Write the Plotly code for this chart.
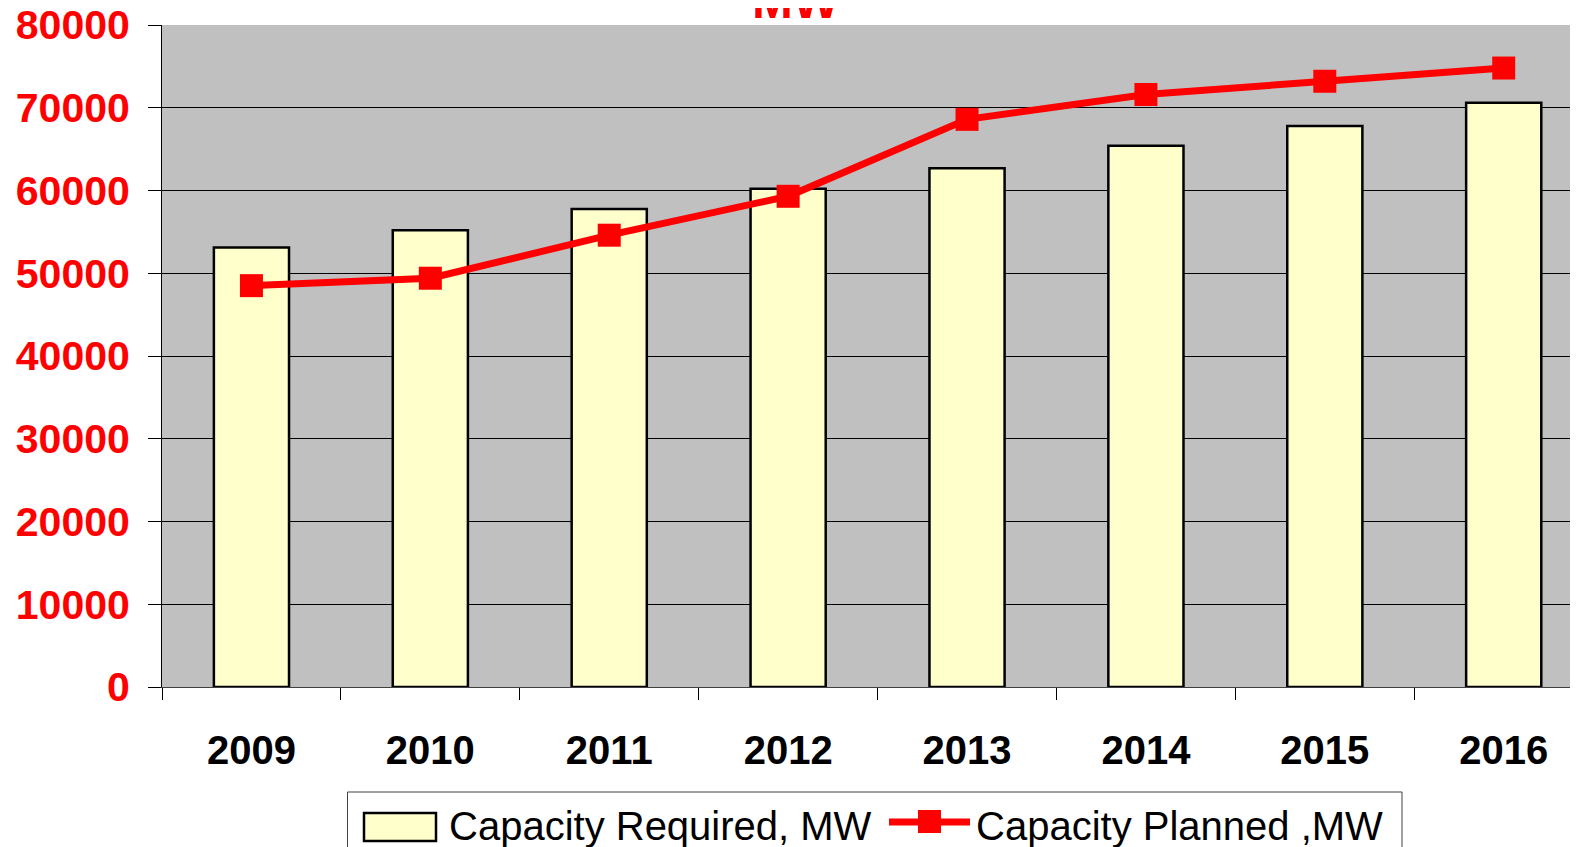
import plotly.graph_objects as go

years = ["2009", "2010", "2011", "2012", "2013", "2014", "2015", "2016"]
capacity_required = [53100, 55200, 57750, 60200, 62700, 65400, 67800, 70600]
capacity_planned = [48500, 49400, 54600, 59300, 68600, 71600, 73200, 74800]
y_ticks = [0, 10000, 20000, 30000, 40000, 50000, 60000, 70000, 80000]
y_tick_labels = [str(v) for v in y_ticks]
series_names = ["Capacity Required, MW", "Capacity Planned ,MW"]

FONT = "Liberation Sans, Arial, sans-serif"
W, H = 1578, 847
OFF = 8  # page body offset
# target screen positions of plot area
SX0, SY0, SY1 = 162, 25, 687
ML = SX0 - OFF
MT = SY0 - OFF
MB = H - (SY1 - OFF)
PW, PH = W - ML, H - MT - MB


def px(x):
    return (x - OFF - ML) / PW


def py(y):
    return (H - MB - (y - OFF)) / PH


fig = go.Figure()
fig.add_trace(go.Bar(
    x=years, y=capacity_required, name=series_names[0],
    width=0.42,
    marker=dict(color="#FFFFCC", line=dict(color="black", width=2.5)),
))
fig.add_trace(go.Scatter(
    x=years, y=capacity_planned, name=series_names[1],
    mode="lines+markers",
    line=dict(color="#FF0000", width=7),
    marker=dict(symbol="square", size=23, color="#FF0000"),
))

fig.add_annotation(
    text="<b>MW</b>", xref="paper", yref="paper", x=px(796), y=1.0, yshift=-5,
    xanchor="center", yanchor="bottom", showarrow=False,
    font=dict(family=FONT, size=49, color="#FF0000"),
)

# legend (drawn as a boxed key below the plot)
shapes = [
    dict(type="rect", xref="paper", yref="paper",
         x0=px(347.5), x1=px(1402), y0=py(870), y1=py(792),
         line=dict(color="#404040", width=1), fillcolor="white", layer="above"),
    dict(type="rect", xref="paper", yref="paper",
         x0=px(364), x1=px(436), y0=py(841), y1=py(813),
         line=dict(color="black", width=2.5), fillcolor="#FFFFCC", layer="above"),
    dict(type="line", xref="paper", yref="paper",
         x0=px(889), x1=px(970), y0=py(822), y1=py(822),
         line=dict(color="#FF0000", width=7), layer="above"),
    dict(type="rect", xref="paper", yref="paper",
         x0=px(918), x1=px(941), y0=py(833), y1=py(810),
         line=dict(color="#FF0000", width=0), fillcolor="#FF0000", layer="above"),
]
fig.add_annotation(
    text=series_names[0], xref="paper", yref="paper", x=px(447), y=py(826),
    xanchor="left", yanchor="middle", showarrow=False,
    font=dict(family=FONT, size=40, color="black"),
)
fig.add_annotation(
    text=series_names[1], xref="paper", yref="paper", x=px(974), y=py(826),
    xanchor="left", yanchor="middle", showarrow=False,
    font=dict(family=FONT, size=40, color="black"),
)

fig.update_layout(
    width=W, height=H,
    margin=dict(l=ML, r=0, t=MT, b=MB, autoexpand=False),
    paper_bgcolor="white",
    plot_bgcolor="#C0C0C0",
    showlegend=False,
    shapes=shapes,
    xaxis=dict(
        type="category", range=[-0.5, 7.46], automargin=False,
        tickson="boundaries", ticks="outside", ticklen=12, tickcolor="black",
        showline=True, linecolor="#404040", linewidth=1,
        showgrid=False,
        tickfont=dict(family=FONT, size=40, color="black", weight="bold"),
        ticklabelstandoff=28, ticklabeloverflow="allow",
    ),
    yaxis=dict(
        range=[0, 80000], tickvals=y_ticks, ticktext=y_tick_labels,
        automargin=False,
        ticks="outside", ticklen=13, tickcolor="black",
        showline=True, linecolor="black", linewidth=1,
        showgrid=True, gridcolor="black", gridwidth=1,
        zeroline=False,
        tickfont=dict(family=FONT, size=41, color="#FF0000", weight="bold"),
        ticklabelstandoff=10, ticklabeloverflow="allow",
    ),
)

fig.write_html("out.html")
